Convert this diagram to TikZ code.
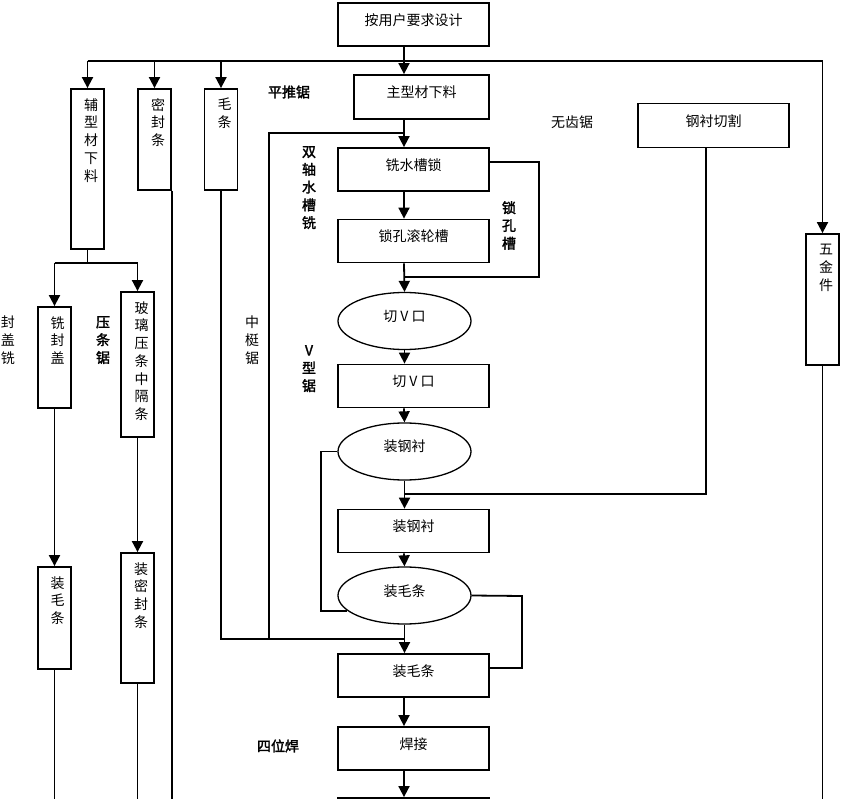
\documentclass[tikz,border=0pt]{standalone}
\usepackage{fontspec}
\setmainfont{Noto Sans CJK SC}
\newfontfamily\bfcjk{Noto Sans CJK SC}[FakeBold=2]
\usetikzlibrary{arrows.meta,shapes.geometric}
\begin{document}
\begin{tikzpicture}[x=1pt,y=-1pt,
  every node/.style={font=\fontsize{14}{17.75}\selectfont},
  box/.style={draw, line width=1.8pt, inner sep=0pt, minimum width=151pt, minimum height=43pt, text height=12pt, text depth=10.5pt},
  vbox/.style={draw, line width=1.8pt, inner sep=0pt, minimum width=33pt},
  oval/.style={ellipse, draw, line width=1.3pt, inner sep=0pt, minimum width=133pt, minimum height=57pt, text height=12pt, text depth=11pt},
  vt/.style={align=center, inner sep=0pt, anchor=north},
  blab/.style={font=\fontsize{14}{17.75}\selectfont\bfcjk, inner sep=0pt},
  line/.style={line width=1.8pt},
  arr/.style={line width=1.8pt, -{Triangle[width=11pt,length=11pt]}},
]
\useasboundingbox (0,0) rectangle (841,799);
\clip (0,0) rectangle (841,799);

% main column boxes
\node[box] (top) at (413.5,24.5) {按用户要求设计};
\node[box, minimum width=135pt, minimum height=44pt] (zhu) at (421.5,97) {主型材下料};
\node[box] (xi) at (413.5,169.5) {铣水槽锁};
\node[box] (suo) at (413.5,241) {锁孔滚轮槽};
\node[oval] (e1) at (404.5,321) {切 V 口};
\node[box] (qv) at (413.5,386) {切 V 口};
\node[oval] (e2) at (404.5,451.5) {装钢衬};
\node[box] (zg) at (413.5,531) {装钢衬};
\node[oval] (e3) at (404.5,595.5) {装毛条};
\node[box] (mb) at (413.5,675.5) {装毛条};
\node[box] (hj) at (413.5,748.5) {焊接};
\node[box] (nx) at (413.5,819.5) {};
\node[box, minimum height=44pt] (gang) at (713.5,125.5) {钢衬切割};

% vertical boxes
\node[vbox, minimum height=160pt] (fu) at (87.5,169) {};
\node[vbox, minimum height=101pt] (mi) at (154.5,139.5) {};
\node[vbox, minimum height=101pt] (mao) at (221,139.5) {};
\node[vbox, minimum height=131pt] (wujin) at (822.5,299.5) {};
\node[vbox, minimum height=101pt] (xf) at (54.5,357.5) {};
\node[vbox, minimum height=145pt] (bl) at (137.5,364.5) {};
\node[vbox, minimum height=102pt] (zm) at (54.5,618) {};
\node[vbox, minimum height=130pt] (zs) at (137.5,618) {};

% vertical texts inside boxes
\node[vt] (fut) at ([xshift=3.5pt,yshift=-10pt]fu.north) {辅\\型\\材\\下\\料};
\node[vt] (mit) at ([xshift=3.5pt,yshift=-10pt]mi.north) {密\\封\\条};
\node[vt] (maot) at ([xshift=3.5pt,yshift=-10pt]mao.north) {毛\\条};
\node[vt] (wjt) at ([xshift=3.5pt,yshift=-11pt]wujin.north) {五\\金\\件};
\node[vt] (xft) at ([xshift=3pt,yshift=-10pt]xf.north) {铣\\封\\盖};
\node[vt] (blt) at ([xshift=4pt,yshift=-10pt]bl.north) {玻\\璃\\压\\条\\中\\隔\\条};
\node[vt] (zmt) at ([xshift=3pt,yshift=-10pt]zm.north) {装\\毛\\条};
\node[vt] (zst) at ([xshift=3.5pt,yshift=-10pt]zs.north) {装\\密\\封\\条};

% free labels
\node[blab] (pt) at (289,92) {平推锯};
\node (wc) at (572,122) {无齿锯};
\node[blab] (sw) at (278,746) {四位焊};
\node[vt, blab] (szs) at (309,146) {双\\轴\\水\\槽\\铣};
\node[vt, blab] (skc) at (509,201) {锁\\孔\\槽};
\node[vt, blab] (vx) at (309,345) {V\\型\\锯};
\node[vt, blab] (ytj) at (103,316) {压\\条\\锯};
\node[vt] (fgx) at (8,316) {封\\盖\\铣};
\node[vt] (zty) at (252,316) {中\\梃\\锯};

% helper coordinates
\coordinate (sp) at (404,0);
\coordinate (bus) at (0,61);
\coordinate (bot) at (0,799);
\coordinate (zt) at (269,133);
\coordinate (j3) at (0,639);
\coordinate (lk) at (539,277);
\coordinate (gj) at (706,494);
\coordinate (mr) at (522,596);
\coordinate (fj) at (87.5,263);

% top distribution bus
\draw[line] (top.south -| sp) -- (bus -| sp);
\draw[line] (bus -| fu) -- (bus -| wujin);
\draw[arr] (bus -| fu) -- (fu.north);
\draw[arr] (bus -| mi) -- (mi.north);
\draw[arr] (bus -| mao) -- (mao.north);
\draw[arr] (bus -| wujin) -- (wujin.north);
\draw[arr] (bus -| sp) -- (zhu.north -| sp);

% main column
\draw[arr] (zhu.south -| sp) -- (xi.north -| sp);
\draw[line] (zt -| sp) -- (zt) -- (zt |- j3);
\draw[line] (mao.south) -- (mao.south |- j3) -- (j3 -| sp);
\draw[arr] (xi.south -| sp) -- (suo.north -| sp);
\draw[line] ([yshift=7.5pt]xi.east) -| (lk) -- (lk -| sp);
\draw[arr] (suo.south -| sp) -- (e1.north);
\draw[arr] (e1.south) -- (qv.north -| e1);
\draw[arr] (qv.south -| sp) -- (e2.north);
\draw[line] (gang.south -| gj) -- (gj) -- (gj -| sp);
\draw[arr] (e2.south) -- (zg.north -| e2);
\draw[line] (e2.west) -- ++(-16,0) |- (e3.195);
\draw[arr] (zg.south -| sp) -- (e3.north);
\draw[line] (e3.east) -- (mr) |- ([yshift=7.5pt]mb.east);
\draw[arr] (e3.south) -- (mb.north -| e3);
\draw[arr] (mb.south -| sp) -- (hj.north -| sp);
\draw[arr] (hj.south -| sp) -- (nx.north -| sp);

% left branch
\draw[line] (fu.south) -- (fj);
\draw[line] (fj -| xf) -- (fj -| bl);
\draw[arr] (fj -| xf) -- (xf.north);
\draw[arr] (fj -| bl) -- (bl.north);
\draw[arr] (xf.south) -- (zm.north);
\draw[arr] (bl.south) -- (zs.north);
\draw[line] (zm.south) -- (zm.south |- bot);
\draw[line] (zs.south) -- (zs.south |- bot);
\draw[line] (mi.south east) -- (mi.south east |- bot);
\draw[line] (wujin.south) -- (wujin.south |- bot);
\end{tikzpicture}
\end{document}
